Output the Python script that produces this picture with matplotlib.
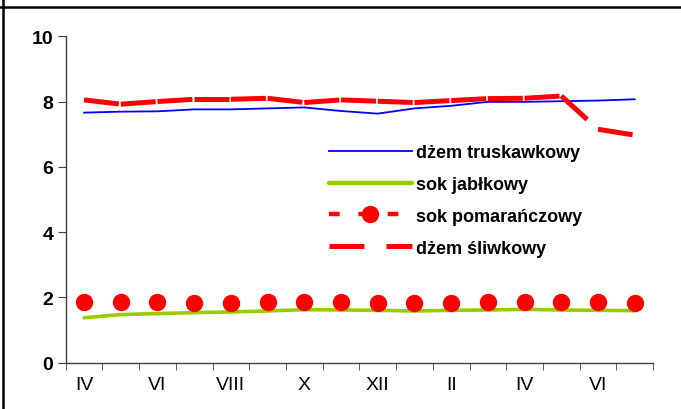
"""Line chart: monthly price index of jams and juices (Polish labels)."""

import matplotlib

matplotlib.use("Agg")

import matplotlib.pyplot as plt
from matplotlib.lines import Line2D
from matplotlib.ticker import FixedLocator, MultipleLocator

plt.rcParams["font.family"] = ["Liberation Sans", "DejaVu Sans"]

months = ["IV", "V", "VI", "VII", "VIII", "IX", "X", "XI", "XII",
          "I", "II", "III", "IV", "V", "VI", "VII"]

dzem_truskawkowy = [7.66, 7.69, 7.70, 7.76, 7.76, 7.79, 7.82, 7.71,
                    7.63, 7.79, 7.87, 7.99, 7.99, 8.01, 8.03, 8.07]
sok_jablkowy = [1.37, 1.47, 1.50, 1.53, 1.55, 1.58, 1.62, 1.61,
                1.60, 1.58, 1.60, 1.61, 1.63, 1.61, 1.60, 1.59]
sok_pomaranczowy = [1.86, 1.86, 1.84, 1.81, 1.81, 1.84, 1.86, 1.86,
                    1.81, 1.81, 1.81, 1.84, 1.86, 1.84, 1.84, 1.81]
dzem_sliwkowy = [8.05, 7.92, 8.00, 8.07, 8.07, 8.10, 7.97, 8.05,
                 8.01, 7.97, 8.03, 8.09, 8.10, 8.17, 7.15, 6.97]

BLUE = "#0000FF"
GREEN = "#99CC00"
RED = "#FF0000"
AXIS = "#404040"

fig = plt.figure(figsize=(6.81, 4.10), dpi=100)
ax = fig.add_axes([0.0965, 0.1134, 0.8625, 0.7956])

x = list(range(len(months)))

ax.plot(x, dzem_truskawkowy, color=BLUE, lw=1.3, solid_joinstyle="round")
ax.plot(x, sok_jablkowy, color=GREEN, lw=2.6, solid_capstyle="round")

# Excel restarts the dash pattern on every segment, so draw them one by one.
plum_style = dict(color=RED, lw=3.6, dashes=(7.0, 4.4), dash_capstyle="butt")
orange_style = dict(color=RED, lw=3.2, dashes=(2.4, 4.2), dash_capstyle="butt")
for i in range(len(x) - 1):
    ax.plot(x[i:i + 2], sok_pomaranczowy[i:i + 2],
            **{**orange_style, "dashes": (1.9, 4.7)})
    ax.plot(x[i:i + 2], dzem_sliwkowy[i:i + 2], **plum_style)
ax.plot(x, sok_pomaranczowy, ls="none", marker="o", ms=11.5,
        color=RED, mec=RED)

ax.set_xlim(-0.5, len(months) - 0.5)
ax.set_ylim(0, 10)
ax.yaxis.set_major_locator(MultipleLocator(2))
ax.xaxis.set_major_locator(FixedLocator(x[::2]))
ax.set_xticklabels(months[::2], fontsize=14)
ax.xaxis.set_minor_locator(FixedLocator([i - 0.5 for i in range(len(months) + 1)]))
ax.tick_params(axis="x", which="major", length=0, pad=10)
ax.tick_params(axis="x", which="minor", length=5, color=AXIS, direction="out")
ax.tick_params(axis="y", length=6, color=AXIS, pad=3, labelsize=14)
for lbl in ax.get_yticklabels():
    lbl.set_fontweight("bold")
for side in ("top", "right"):
    ax.spines[side].set_visible(False)
for side in ("left", "bottom"):
    ax.spines[side].set_color(AXIS)
    ax.spines[side].set_linewidth(1.0)

handles = [
    Line2D([], [], color=BLUE, lw=1.3),
    Line2D([], [], color=GREEN, lw=3.2, solid_capstyle="round"),
    Line2D([], [], marker="o", ms=11.5, mec=RED, **orange_style),
    Line2D([], [], **plum_style),
]
labels = ["dżem truskawkowy", "sok jabłkowy", "sok pomarańczowy", "dżem śliwkowy"]
ax.legend(handles, labels, loc="center left", bbox_to_anchor=(0.448, 0.497),
          frameon=False, prop={"size": 13, "weight": "bold"},
          handlelength=4.6, handletextpad=0.2, labelspacing=0.82,
          borderpad=0, borderaxespad=0, numpoints=1)

# page border lines cropped into the picture
fig.add_artist(Line2D([0, 1], [0.9817, 0.9817], color="black", lw=1.8,
                      transform=fig.transFigure))
fig.add_artist(Line2D([0.0037, 0.0037], [0, 1], color="black", lw=1.8,
                      transform=fig.transFigure))

fig.savefig("out.png", dpi=100, facecolor="white")
plt.close(fig)
